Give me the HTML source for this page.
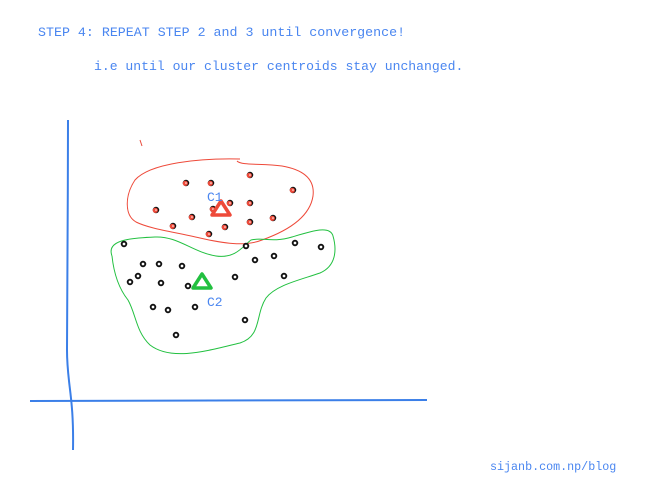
<!DOCTYPE html>
<html><head><meta charset="utf-8"><style>
html,body{margin:0;padding:0;background:#fff;}
svg{display:block;}
text{font-family:"Liberation Mono",monospace;fill:#4a86f0;}
</style></head><body>
<svg width="663" height="500" viewBox="0 0 663 500">
<text x="38" y="36" font-size="13.3">STEP 4: REPEAT STEP 2 and 3 until convergence!</text>
<text x="94" y="70" font-size="13.1">i.e until our cluster centroids stay unchanged.</text>
<text x="490" y="470" font-size="11.7">sijanb.com.np/blog</text>
<path d="M68,120 C68,200 67,300 67,350 C67,385 74,395 73,450" stroke="#3b7fe8" stroke-width="2" fill="none"/>
<path d="M30,401 L427,400" stroke="#3b7fe8" stroke-width="2" fill="none"/>
<path d="M140,140 L142,146" stroke="#e84a3b" stroke-width="1"/>
<path d="M240,159 C200,158 150,163 135,180 C125,195 124,215 136,222 C150,229 175,232 200,238 C222,243 245,247 262,240 C290,230 310,216 313,196 C315,180 305,170 282,166 C262,163 242,166 237,161" stroke="#ee4a3a" stroke-width="1" fill="none"/>
<path d="M112,256 C106,240 130,238 155,237 C178,236 192,252 216,256 C236,259 244,245 251,240 C262,237 272,243 292,237 C312,231 330,225 333,236 C337,250 336,266 320,273 C300,280 276,285 266,298 C255,315 262,336 240,343 C210,350 172,362 150,345 C136,332 136,314 128,300 C120,290 114,275 112,256" stroke="#22c040" stroke-width="1" fill="none"/>
<g id="pts"></g>
<polygon points="221,201 230,215 212,215" fill="none" stroke="#ee4a3a" stroke-width="3.5" stroke-linejoin="round"/>
<polygon points="202,274 211,288 193,288" fill="none" stroke="#22c040" stroke-width="3.5" stroke-linejoin="round"/>
<text x="207" y="201" font-size="13" font-family="Liberation Sans, sans-serif">C1</text>
<text x="207" y="306" font-size="13" font-family="Liberation Sans, sans-serif">C2</text>
</svg>
<script>
const redX=[186,211,250,293,156,192,173,213,230,250,250,273,225,209];
const redY=[183,183,175,190,210,217,226,209,203,203,222,218,227,234];
const blackX=[124,143,159,182,138,130,161,188,153,168,195,176,246,255,274,295,321,235,284,245];
const blackY=[244,264,264,266,276,282,283,286,307,310,307,335,246,260,256,243,247,277,276,320];
const g=document.getElementById('pts');
const NS='http://www.w3.org/2000/svg';
function dot(x,y,red){
  const c=document.createElementNS(NS,'circle');
  c.setAttribute('cx',x);c.setAttribute('cy',y);c.setAttribute('r',2.3);
  c.setAttribute('fill','#fff');
  c.setAttribute('stroke','#111');
  c.setAttribute('stroke-width',1.9);
  
  
  g.appendChild(c);
  if(red){
    const r=document.createElementNS(NS,'circle');
    r.setAttribute('cx',x-0.7);r.setAttribute('cy',y+0.3);r.setAttribute('r',2.6);
    r.setAttribute('fill','#ee4a3a');
    
    
    g.appendChild(r);
    const d=document.createElementNS(NS,'circle');
    d.setAttribute('cx',x);d.setAttribute('cy',y);d.setAttribute('r',0.8);
    d.setAttribute('fill','#fff');
    
    
    g.appendChild(d);
  }
}
redX.forEach((x,i)=>dot(x,redY[i],true));
blackX.forEach((x,i)=>dot(x,blackY[i],false));
</script>
</body></html>
